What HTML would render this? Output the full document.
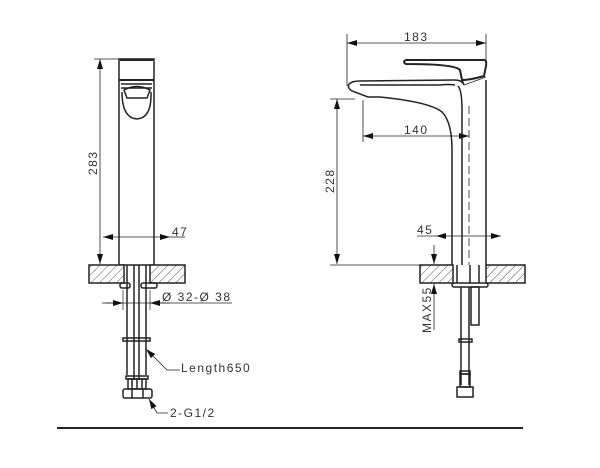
<!DOCTYPE html>
<html><head><style>
body{margin:0;background:#fff}
svg{display:block}
text{font-family:"Liberation Sans",sans-serif;fill:#333;font-size:12px;letter-spacing:1.5px}
</style></head><body>
<svg width="600" height="468" viewBox="0 0 600 468" xmlns="http://www.w3.org/2000/svg">
<defs>
<pattern id="h" width="6" height="6" patternUnits="userSpaceOnUse" patternTransform="rotate(45)">
<rect width="6" height="6" fill="#fff"/><line x1="0" y1="0" x2="0" y2="6" stroke="#555" stroke-width="1"/>
</pattern>
<marker id="a" markerWidth="10" markerHeight="6" refX="10" refY="3" orient="auto-start-reverse" markerUnits="userSpaceOnUse">
<path d="M0,0 L10,3 L0,6 z" fill="#111"/></marker>
</defs>
<g stroke="#222" fill="none" stroke-width="1.5">
<rect x="119" y="59" width="35" height="206"/>
<line x1="119" y1="80" x2="154" y2="80" stroke-width="2"/>
<line x1="120" y1="60" x2="153" y2="60" stroke-width="2"/>
<line x1="121" y1="84" x2="152" y2="84"/>
<line x1="121" y1="88" x2="152" y2="88"/>
<path d="M124,90 Q137,83 150,90 L147,98 L127,98 Z"/>
<path d="M122,92 Q122,118 137,119 Q152,118 151,92"/>
<line x1="94" y1="59" x2="119" y2="59" stroke-width="0.8"/>
<line x1="100" y1="59" x2="100" y2="264" stroke-width="0.8" marker-start="url(#a)" marker-end="url(#a)"/>
<line x1="103" y1="237" x2="170" y2="237" stroke-width="0.8" marker-start="url(#a)" marker-end="url(#a)"/>
<line x1="170" y1="237" x2="185" y2="237" stroke-width="0.8"/>
<rect x="89" y="265" width="35" height="18" fill="url(#h)"/>
<rect x="150" y="265" width="35" height="18" fill="url(#h)"/>
<line x1="127" y1="265" x2="127" y2="375"/>
<line x1="134" y1="265" x2="134" y2="380"/>
<line x1="139" y1="265" x2="139" y2="380"/>
<line x1="146" y1="265" x2="146" y2="375"/>
<rect x="120" y="283" width="10" height="5" rx="2"/>
<rect x="141" y="283" width="16" height="5" rx="2"/>
<line x1="123" y1="290" x2="123" y2="310" stroke-width="0.7"/>
<line x1="150" y1="290" x2="150" y2="310" stroke-width="0.7"/>
<line x1="102" y1="303" x2="232" y2="303" stroke-width="0.8"/>
<line x1="105" y1="303" x2="123" y2="303" stroke-width="0.8" marker-end="url(#a)"/>
<line x1="170" y1="303" x2="150" y2="303" stroke-width="0.8" marker-end="url(#a)"/>
<rect x="123" y="338" width="27" height="3"/>
<rect x="126" y="376" width="22" height="3"/>
<rect x="128" y="379" width="18" height="10"/>
<line x1="132" y1="379" x2="132" y2="389"/><line x1="137" y1="379" x2="137" y2="389"/><line x1="142" y1="379" x2="142" y2="389"/>
<rect x="123" y="389" width="29" height="9" rx="2"/>
<line x1="132" y1="389" x2="132" y2="398"/><line x1="143" y1="389" x2="143" y2="398"/>
<path d="M146,349 L167,370 L180,370" stroke-width="0.8" marker-start="url(#a)"/>
<path d="M149,399 L157,413 L168,413" stroke-width="0.8" marker-start="url(#a)"/>
<line x1="347" y1="34" x2="347" y2="86" stroke-width="0.8"/>
<line x1="486" y1="34" x2="486" y2="60" stroke-width="0.8"/>
<line x1="347" y1="43" x2="486" y2="43" stroke-width="0.8" marker-start="url(#a)" marker-end="url(#a)"/>
<path d="M406,60 L484,60 Q487,60 486,66 L484,76 Q470,80 462,80 L460,70 Q455,64 406,64 Q402,62 406,60 Z" stroke-width="2"/>
<path d="M349,84 Q352,81 360,81 L455,80 Q462,80 464,85 L462,80"/>
<path d="M349,84 Q347,88 352,91 L368,97 L380,97 Q430,102 442,112 Q452,122 452,150 L452,265"/>
<path d="M455,85 Q448,84 440,85 L360,85"/>
<path d="M458,86 Q462,90 462,110 L462,265"/>
<line x1="486" y1="80" x2="486" y2="265"/>
<path d="M464,85 L486,77" stroke-width="0.8"/>
<line x1="469" y1="106" x2="469" y2="265" stroke-width="0.8" stroke-dasharray="8,4"/>
<line x1="363" y1="100" x2="363" y2="142" stroke-width="0.8"/>
<line x1="363" y1="136" x2="469" y2="136" stroke-width="0.8" marker-start="url(#a)" marker-end="url(#a)"/>
<line x1="330" y1="99" x2="355" y2="99" stroke-width="0.8"/>
<line x1="337" y1="99" x2="337" y2="264" stroke-width="0.8" marker-start="url(#a)" marker-end="url(#a)"/>
<line x1="330" y1="265" x2="420" y2="265" stroke-width="0.8"/>
<line x1="417" y1="236" x2="436" y2="236" stroke-width="0.8"/>
<line x1="436" y1="236" x2="501" y2="236" stroke-width="0.8" marker-start="url(#a)" marker-end="url(#a)"/>
<rect x="420" y="265" width="33" height="18" fill="url(#h)"/>
<rect x="486" y="265" width="39" height="18" fill="url(#h)"/>
<line x1="434" y1="245" x2="434" y2="264" stroke-width="0.8" marker-end="url(#a)"/>
<line x1="434" y1="330" x2="434" y2="284" stroke-width="0.8" marker-end="url(#a)"/>
<line x1="457" y1="265" x2="457" y2="283"/><line x1="470" y1="265" x2="470" y2="283"/><line x1="479" y1="265" x2="479" y2="283"/>
<rect x="452" y="283" width="36" height="4" rx="2"/>
<line x1="461" y1="287" x2="461" y2="385"/><line x1="469" y1="287" x2="469" y2="385"/>
<rect x="471" y="287" width="8" height="38"/>
<rect x="459" y="339" width="13" height="3"/>
<rect x="460" y="371" width="10" height="3"/>
<rect x="460" y="374" width="10" height="13"/>
<rect x="457" y="387" width="16" height="10"/>
<line x1="57" y1="428" x2="523" y2="428" stroke-width="2"/>
</g>
<g>
<text x="0" y="0" transform="translate(97,175) rotate(-90)">283</text>
<text x="172" y="236">47</text>
<text x="162" y="301" font-size="13">Ø 32-Ø 38</text>
<text x="181" y="372">Length650</text>
<text x="170" y="417">2-G1/2</text>
<text x="404" y="41">183</text>
<text x="404" y="134">140</text>
<text x="0" y="0" transform="translate(334,193) rotate(-90)">228</text>
<text x="417" y="234">45</text>
<text x="0" y="0" transform="translate(431,333) rotate(-90)" font-size="11">MAX55</text>
</g>
</svg>
</body></html>
